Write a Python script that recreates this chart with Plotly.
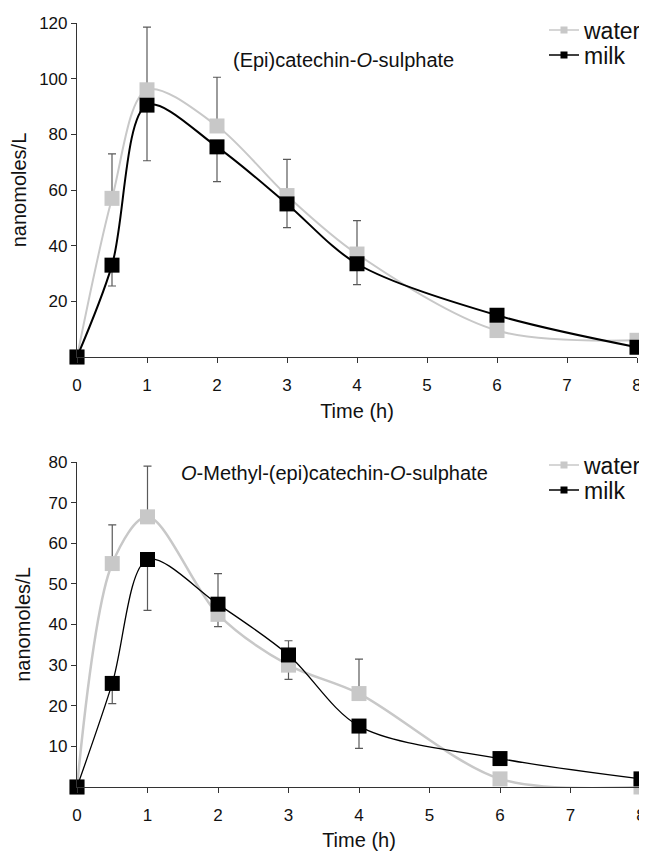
import plotly.graph_objects as go

time_h = [0, 0.5, 1, 2, 3, 4, 6, 8]
x_ticks = [0, 1, 2, 3, 4, 5, 6, 7, 8]

# (Epi)catechin-O-sulphate
top_water = [0, 57, 96, 83, 58, 37, 9.5, 6]
top_water_err_up = [0, 16, 22.5, 17.5, 13, 12, 0, 0]
top_water_err_dn = [0, 0, 0, 0, 0, 0, 0, 0]
top_milk = [0, 33, 90.5, 75.5, 55, 33.5, 15, 3.5]
top_milk_err_up = [0, 0, 0, 0, 0, 0, 0, 0]
top_milk_err_dn = [0, 7.5, 20, 12.5, 8.5, 7.5, 0, 0]
top_yticks = [20, 40, 60, 80, 100, 120]

# O-Methyl-(epi)catechin-O-sulphate
bot_water = [0, 55, 66.5, 42.5, 30, 23, 2, 0]
bot_water_err_up = [0, 9.5, 12.5, 0, 0, 8.5, 0, 0]
bot_water_err_dn = [0, 0, 0, 3, 3.5, 0, 0, 0]
bot_milk = [0, 25.5, 56, 45, 32.5, 15, 7, 2]
bot_milk_err_up = [0, 0, 0, 7.5, 3.5, 0, 0, 0]
bot_milk_err_dn = [0, 5, 12.5, 0, 0, 5.5, 0, 0]
bot_yticks = [10, 20, 30, 40, 50, 60, 70, 80]

W, H = 647, 851
OFF = 8  # page body margin
FW, FH = W - OFF, H - OFF
FONT = "Liberation Sans, Arial, sans-serif"
GRAY = "#c8c8c8"
ERR = "#5a5a5a"
TXT = "#111111"


def px_x(p):
    return (p - OFF) / FW


def px_y(p):
    return 1 - (p - OFF) / FH


fig = go.Figure()


def add_series(xa, ya, y, up, dn, color, lw):
    fig.add_trace(go.Scatter(
        x=time_h, y=y, xaxis=xa, yaxis=ya, mode="lines+markers",
        line=dict(color=color, width=lw, shape="spline", smoothing=0.9),
        marker=dict(symbol="square", size=15, color=color),
        error_y=dict(type="data", symmetric=False, array=up, arrayminus=dn,
                     color=ERR, thickness=1.2, width=4),
        showlegend=False, cliponaxis=False,
    ))


add_series("x", "y", top_water, top_water_err_up, top_water_err_dn, GRAY, 2)
add_series("x", "y", top_milk, top_milk_err_up, top_milk_err_dn, "black", 2)
add_series("x2", "y2", bot_water, bot_water_err_up, bot_water_err_dn, GRAY, 2.5)
add_series("x2", "y2", bot_milk, bot_milk_err_up, bot_milk_err_dn, "black", 1.3)

# legend entries (one legend box per entry for tight spacing)
legend_specs = [
    ("legend", "x", "y", "water", GRAY, 30),
    ("legend2", "x", "y", "milk", "black", 55),
    ("legend3", "x2", "y2", "water", GRAY, 465),
    ("legend4", "x2", "y2", "milk", "black", 490),
]
legend_layout = {}
for lg, xa, ya, name, color, ypix in legend_specs:
    fig.add_trace(go.Scatter(
        x=[None], y=[None], xaxis=xa, yaxis=ya, name=name, mode="lines+markers",
        line=dict(color=color, width=1.5),
        marker=dict(symbol="square", size=7, color=color),
        legend=lg, showlegend=True,
    ))
    legend_layout[lg] = dict(x=px_x(544), y=px_y(ypix), xanchor="left", yanchor="middle",
                             font=dict(family=FONT, size=23, color=TXT),
                             bgcolor="rgba(0,0,0,0)", itemwidth=30)

common_x = dict(range=[0, 8], tickvals=x_ticks, ticks="outside", ticklen=5, tickwidth=1,
                tickcolor="#333", showline=True, linecolor="#333", linewidth=1.2,
                showgrid=False, zeroline=False, automargin=False, ticklabelstandoff=7,
                tickfont=dict(family=FONT, size=17, color=TXT),
                title=dict(text="Time (h)", font=dict(family=FONT, size=20, color=TXT), standoff=10))
common_y = dict(ticks="outside", ticklen=5, tickwidth=1, tickcolor="#333",
                showline=True, linecolor="#333", linewidth=1.2, showgrid=False,
                zeroline=False, automargin=False,
                tickfont=dict(family=FONT, size=17, color=TXT),
                title=dict(text="nanomoles/L", font=dict(family=FONT, size=20, color=TXT), standoff=12))

fig.update_layout(
    width=FW, height=FH, margin=dict(l=0, r=0, t=0, b=0),
    paper_bgcolor="white", plot_bgcolor="white",
    font=dict(family=FONT, color=TXT),
    xaxis=dict(domain=[px_x(77), px_x(637)], anchor="y", **common_x),
    yaxis=dict(domain=[px_y(357), px_y(23)], anchor="x", range=[0, 120], tickvals=top_yticks, **common_y),
    xaxis2=dict(domain=[px_x(77), px_x(641)], anchor="y2", **common_x),
    yaxis2=dict(domain=[px_y(787), px_y(462)], anchor="x2", range=[0, 80], tickvals=bot_yticks, **common_y),
    annotations=[
        dict(text="(Epi)catechin-<i>O</i>-sulphate", x=px_x(343), y=px_y(47), xref="paper", yref="paper",
             showarrow=False, font=dict(family=FONT, size=20, color=TXT)),
        dict(text="<i>O</i>-Methyl-(epi)catechin-<i>O</i>-sulphate", x=px_x(335), y=px_y(473),
             xref="paper", yref="paper", showarrow=False, font=dict(family=FONT, size=20, color=TXT)),
    ],
    **legend_layout,
)

fig.write_html("out.html")
